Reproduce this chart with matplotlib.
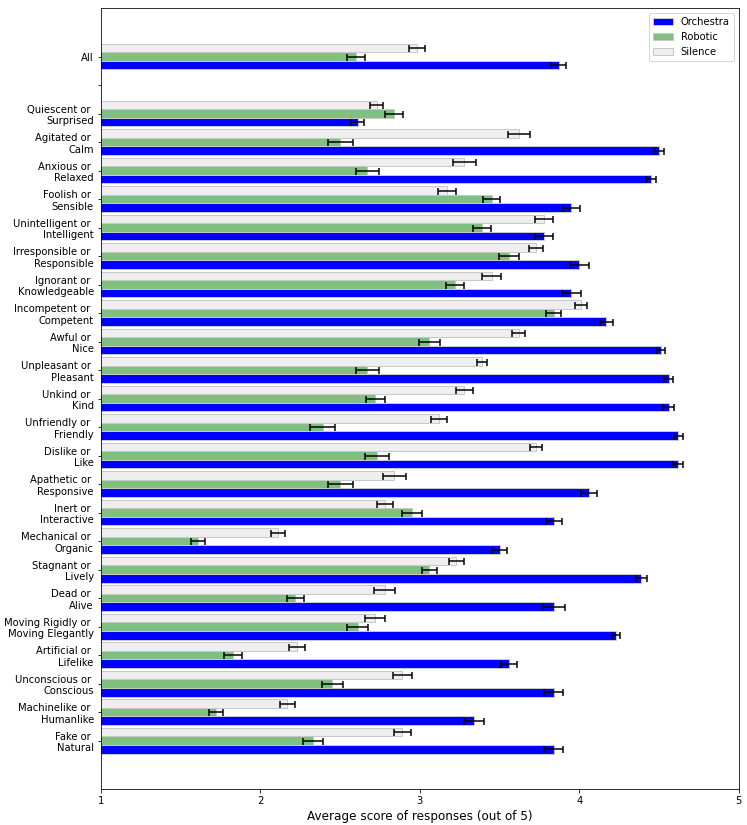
import matplotlib
matplotlib.use("Agg")
import matplotlib.pyplot as plt
import numpy as np

categories = [
    "All",
    "Quiescent or \nSurprised",
    "Agitated or \nCalm",
    "Anxious or \nRelaxed",
    "Foolish or \nSensible",
    "Unintelligent or \nIntelligent",
    "Irresponsible or \nResponsible",
    "Ignorant or \nKnowledgeable",
    "Incompetent or \nCompetent",
    "Awful or \nNice",
    "Unpleasant or \nPleasant",
    "Unkind or \nKind",
    "Unfriendly or \nFriendly",
    "Dislike or \nLike",
    "Apathetic or \nResponsive",
    "Inert or \nInteractive",
    "Mechanical or \nOrganic",
    "Stagnant or \nLively",
    "Dead or \nAlive",
    "Moving Rigidly or \nMoving Elegantly",
    "Artificial or \nLifelike",
    "Unconscious or \nConscious",
    "Machinelike or \nHumanlike",
    "Fake or \nNatural",
]

orchestra = [3.87, 2.61, 4.50, 4.45, 3.95, 3.78, 4.00, 3.95, 4.17, 4.51, 4.56, 4.56,
             4.62, 4.62, 4.06, 3.84, 3.50, 4.39, 3.84, 4.23, 3.56, 3.84, 3.34, 3.84]
orchestra_err = [0.045, 0.042, 0.034, 0.034, 0.055, 0.055, 0.058, 0.058, 0.039, 0.025, 0.027, 0.033,
                 0.028, 0.030, 0.052, 0.049, 0.046, 0.033, 0.069, 0.027, 0.050, 0.060, 0.061, 0.060]

robotic = [2.60, 2.84, 2.50, 2.67, 3.45, 3.39, 3.56, 3.22, 3.84, 3.06, 2.67, 2.72,
           2.39, 2.73, 2.50, 2.95, 1.61, 3.06, 2.22, 2.61, 1.83, 2.45, 1.72, 2.33]
robotic_err = [0.058, 0.057, 0.078, 0.072, 0.054, 0.057, 0.063, 0.058, 0.048, 0.064, 0.073, 0.060,
               0.078, 0.075, 0.078, 0.063, 0.043, 0.049, 0.054, 0.067, 0.058, 0.066, 0.043, 0.063]

silence = [2.98, 2.73, 3.62, 3.28, 3.17, 3.78, 3.73, 3.45, 4.01, 3.62, 3.39, 3.28,
           3.12, 3.73, 2.84, 2.78, 2.11, 3.23, 2.78, 2.72, 2.23, 2.89, 2.17, 2.89]
silence_err = [0.050, 0.042, 0.069, 0.072, 0.058, 0.057, 0.045, 0.060, 0.036, 0.039, 0.034, 0.054,
               0.048, 0.039, 0.072, 0.049, 0.042, 0.048, 0.066, 0.063, 0.052, 0.058, 0.048, 0.052]

# slot positions: "All" first, then an empty slot, then the adjective pairs
pos = np.array([0] + list(range(2, len(categories) + 1)), dtype=float)
tick_pos = list(range(len(categories) + 1))
tick_labels = [categories[0], ""] + categories[1:]

DPI = 72
h = 0.3
fig, ax = plt.subplots(figsize=(747 / DPI, 825 / DPI), dpi=DPI)
fig.subplots_adjust(left=0.135, right=0.989, top=0.990, bottom=0.0436)

edge = "#c8c8c8"
ekw = dict(ecolor="black", elinewidth=1.5, capsize=3.5, capthick=1.5)
ax.barh(pos + h, orchestra, height=h, xerr=orchestra_err, color="#0000ff",
        edgecolor=edge, linewidth=1, label="Orchestra", error_kw=ekw)
ax.barh(pos, robotic, height=h, xerr=robotic_err, color="#7fbf7f",
        edgecolor=edge, linewidth=1, label="Robotic", error_kw=ekw)
ax.barh(pos - h, silence, height=h, xerr=silence_err, color="#eeeeee",
        edgecolor=edge, linewidth=1, label="Silence", error_kw=ekw)

ax.set_yticks(tick_pos)
ax.set_yticklabels(tick_labels, fontsize=10)
ax.invert_yaxis()
ax.set_xlim(1, 5)
ax.set_xticks([1, 2, 3, 4, 5])
ax.tick_params(axis="x", labelsize=10)
ax.set_xlabel("Average score of responses (out of 5)", fontsize=12)
ax.legend(loc="upper right", fontsize=10)

fig.savefig("out.png", dpi=DPI)
